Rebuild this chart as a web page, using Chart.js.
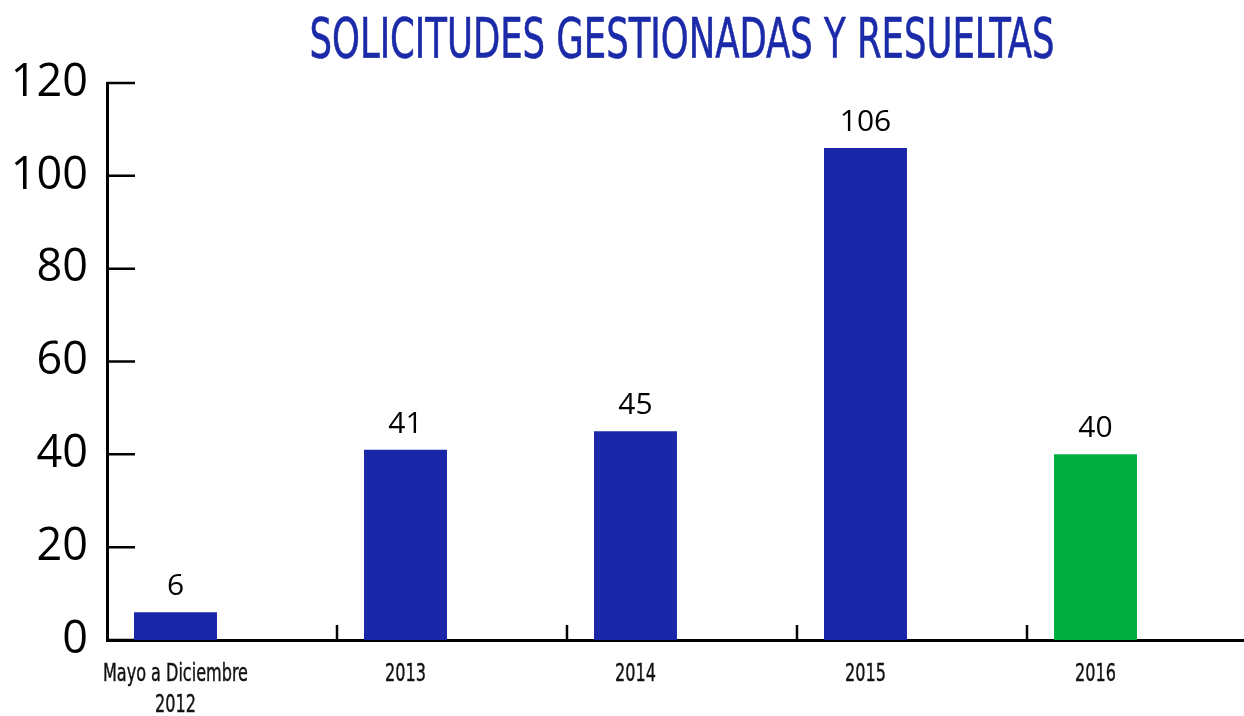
<!DOCTYPE html>
<html>
<head>
<meta charset="utf-8">
<script src="https://cdn.jsdelivr.net/npm/chart.js@4/dist/chart.umd.min.js"></script>
<style>
  html, body { margin: 0; padding: 0; background: #fff; overflow: hidden; }
  #wrap { width: 1260px; height: 716px; }
</style>
</head>
<body>
<div id="wrap"><canvas id="solChart" width="1260" height="716"></canvas></div>
<script>
const categories = [["Mayo a Diciembre", "2012"], "2013", "2014", "2015", "2016"];
const solicitudes = [6, 41, 45, 106, 40];
// the original chart has a second, empty series that pushes each bar left of its category
const serieVacia = [null, null, null, null, null];
const barColors = ['#1a27a9', '#1a27a9', '#1a27a9', '#1a27a9', '#00ae42'];
const yTicks = [0, 20, 40, 60, 80, 100, 120];
const chartTitle = "SOLICITUDES GESTIONADAS Y RESUELTAS";

const narrowFont = '"Liberation Sans Narrow", "DejaVu Sans Condensed", "DejaVu Sans", sans-serif';

// condensed text: draw with a horizontal squeeze
function squeezedText(ctx, text, x, y, sx, stroke) {
  ctx.save();
  ctx.translate(x, y);
  ctx.scale(sx, 1);
  ctx.fillText(text, 0, 0);
  if (stroke) ctx.strokeText(text, 0, 0);
  ctx.restore();
}

const tituloPlugin = {
  id: 'titulo',
  afterDraw(chart) {
    const ctx = chart.ctx;
    ctx.save();
    ctx.font = '55px ' + narrowFont;
    const sx = 745 / ctx.measureText(chartTitle).width;
    ctx.fillStyle = '#1b2aa8';
    ctx.strokeStyle = '#1b2aa8';
    ctx.lineWidth = 0.6;
    ctx.textAlign = 'center';
    ctx.textBaseline = 'alphabetic';
    squeezedText(ctx, chartTitle, 682, 57, sx, true);
    ctx.restore();
  }
};

const etiquetasPlugin = {
  id: 'etiquetas',
  afterDraw(chart) {
    const ctx = chart.ctx;
    const meta = chart.getDatasetMeta(0);
    const base = chart.chartArea.bottom;
    ctx.save();
    ctx.font = '24px ' + narrowFont;
    ctx.fillStyle = '#111';
    ctx.strokeStyle = '#111';
    ctx.lineWidth = 0.4;
    ctx.textAlign = 'center';
    ctx.textBaseline = 'alphabetic';
    const sx = 145 / ctx.measureText(categories[0][0]).width;
    meta.data.forEach((bar, i) => {
      const lines = [].concat(categories[i]);
      lines.forEach((line, j) => {
        squeezedText(ctx, line, bar.x, base + 41 + j * 31, sx, true);
      });
    });
    ctx.restore();
  }
};

const marcasPlugin = {
  id: 'marcas',
  beforeDatasetsDraw(chart) {
    const { ctx, chartArea, scales } = chart;
    ctx.save();
    ctx.strokeStyle = '#000';
    ctx.lineWidth = 2.5;
    ctx.beginPath();
    yTicks.forEach(v => {
      const y = scales.y.getPixelForValue(v);
      ctx.moveTo(chartArea.left, y);
      ctx.lineTo(chartArea.left + 28, y);
    });
    for (let i = 1; i < categories.length; i++) {
      const x = (scales.x.getPixelForValue(i - 1) + scales.x.getPixelForValue(i)) / 2;
      ctx.moveTo(x, chartArea.bottom);
      ctx.lineTo(x, chartArea.bottom - 15);
    }
    ctx.stroke();
    ctx.restore();
  }
};

const valoresPlugin = {
  id: 'valores',
  afterDatasetsDraw(chart) {
    const ctx = chart.ctx;
    const meta = chart.getDatasetMeta(0);
    ctx.save();
    ctx.font = '30px "Open Sans", sans-serif';
    ctx.fillStyle = '#000';
    ctx.textAlign = 'center';
    ctx.textBaseline = 'alphabetic';
    meta.data.forEach((bar, i) => {
      ctx.fillText(String(solicitudes[i]), bar.x, bar.y - 17);
    });
    ctx.restore();
  }
};

const ctx = document.getElementById('solChart').getContext('2d');
new Chart(ctx, {
  type: 'bar',
  data: {
    labels: categories,
    datasets: [{
      label: 'Solicitudes',
      data: solicitudes,
      backgroundColor: barColors,
      borderWidth: 0,
      categoryPercentage: 0.809,
      barPercentage: 0.892
    }, {
      label: '',
      data: serieVacia,
      backgroundColor: 'rgba(0,0,0,0)',
      borderWidth: 0,
      categoryPercentage: 0.809,
      barPercentage: 0.892
    }]
  },
  options: {
    responsive: false,
    animation: false,
    layout: { padding: { top: 83, right: 3, bottom: 0, left: 0 } },
    plugins: {
      legend: { display: false },
      tooltip: { enabled: false },
      title: { display: false }
    },
    scales: {
      x: {
        grid: { display: false, drawTicks: false },
        border: { display: true, color: '#000', width: 3 },
        ticks: { display: false },
        afterFit(scale) { scale.height = 76; }
      },
      y: {
        min: 0,
        max: 120,
        afterBuildTicks(scale) { scale.ticks = yTicks.map(v => ({ value: v })); },
        grid: { display: false, drawTicks: false },
        border: { display: true, color: '#000', width: 3 },
        ticks: {
          color: '#000',
          font: { family: '"Open Sans", sans-serif', size: 45 },
          padding: 19
        },
        afterFit(scale) { scale.width = 107; }
      }
    }
  },
  plugins: [marcasPlugin, valoresPlugin, etiquetasPlugin, tituloPlugin]
});
</script>
</body>
</html>
